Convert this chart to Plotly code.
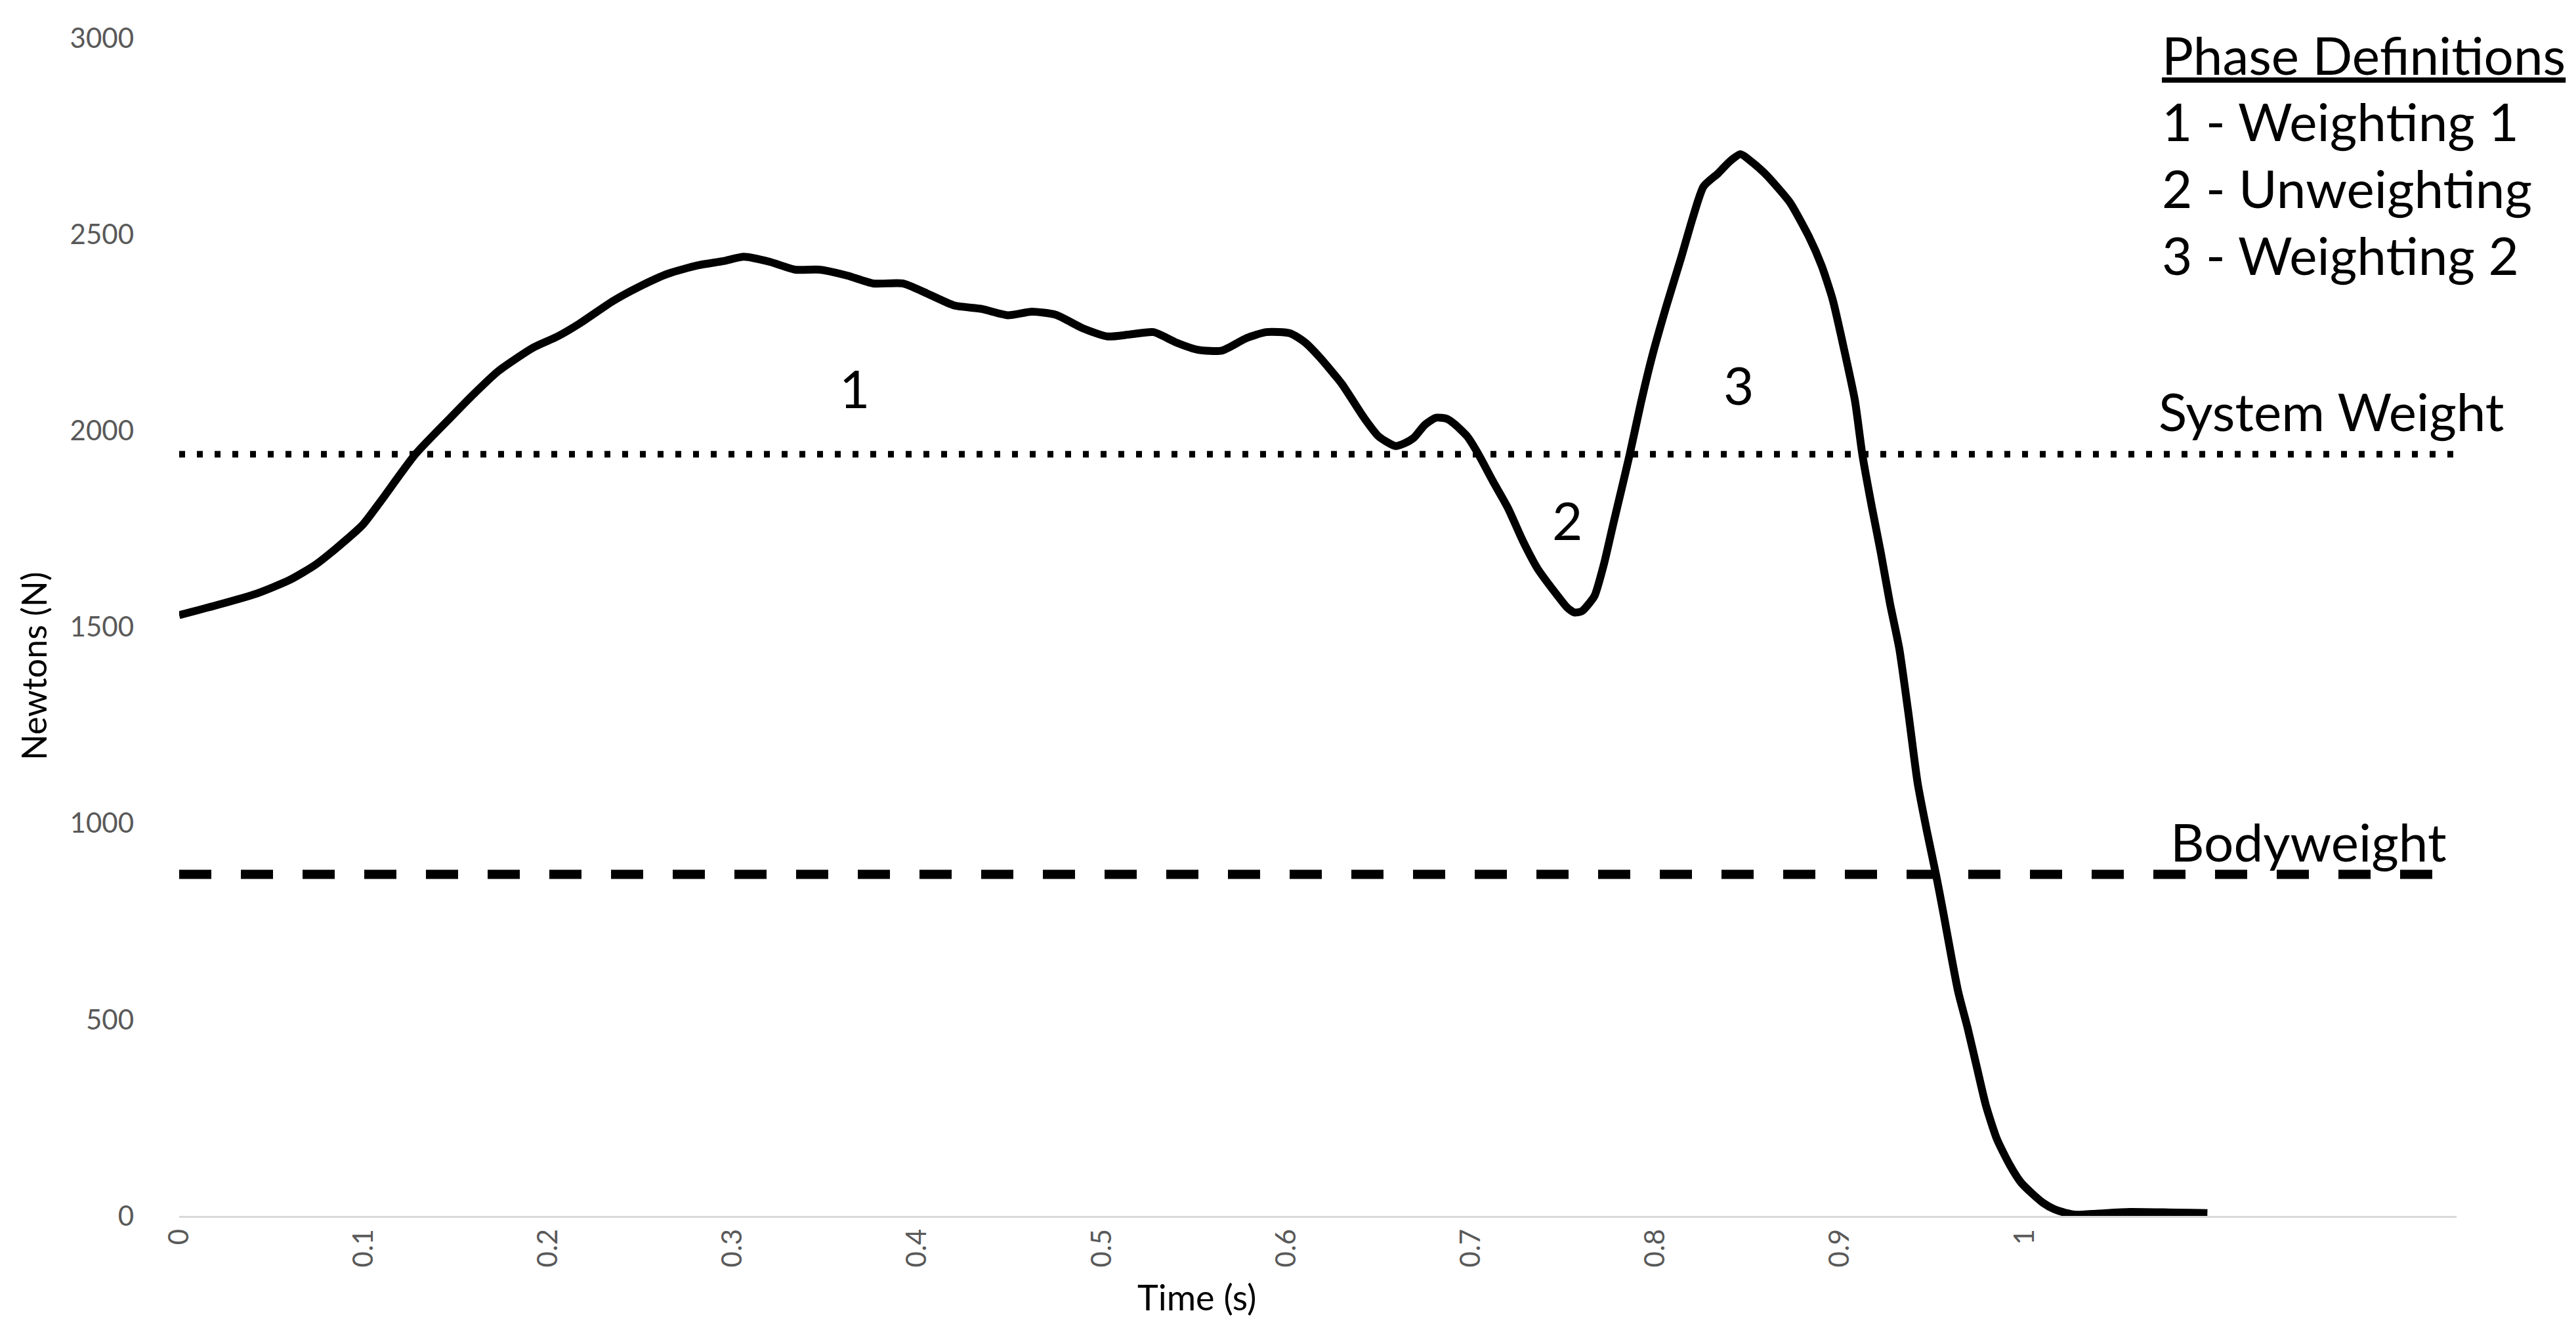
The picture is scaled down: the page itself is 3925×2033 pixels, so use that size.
import plotly.graph_objects as go

# ---- data ----
time_s = [0.000, 0.020, 0.042, 0.060, 0.074, 0.090, 0.0996, 0.109, 0.128, 0.147,
          0.160, 0.173, 0.192, 0.205, 0.217, 0.235, 0.249, 0.265, 0.281, 0.295,
          0.306, 0.320, 0.334, 0.347, 0.362, 0.376, 0.392, 0.405, 0.420, 0.435,
          0.449, 0.462, 0.475, 0.490, 0.503, 0.515, 0.528, 0.540, 0.552, 0.565,
          0.578, 0.589, 0.602, 0.610, 0.618, 0.630, 0.642, 0.650, 0.659, 0.664,
          0.669, 0.675, 0.681, 0.687, 0.691, 0.698, 0.704, 0.712, 0.720, 0.728,
          0.736, 0.746, 0.752, 0.756, 0.760, 0.764, 0.767, 0.772, 0.777, 0.782,
          0.786, 0.792, 0.798, 0.806, 0.814, 0.820, 0.826, 0.834, 0.840, 0.846,
          0.852, 0.859, 0.866, 0.873, 0.883, 0.890, 0.896, 0.902, 0.908, 0.912,
          0.917, 0.922, 0.927, 0.932, 0.937, 0.942, 0.947, 0.952, 0.956, 0.960,
          0.964, 0.969, 0.974, 0.979, 0.985, 0.992, 0.998, 1.004, 1.010, 1.016,
          1.022, 1.028, 1.040, 1.057, 1.075, 1.090, 1.099]
force_n = [1530, 1555, 1585, 1620, 1659, 1720, 1761, 1819, 1940, 2033,
           2095, 2152, 2212, 2240, 2273, 2330, 2366, 2400, 2421, 2432,
           2443, 2430, 2410, 2410, 2395, 2375, 2375, 2350, 2319, 2310,
           2294, 2303, 2295, 2260, 2240, 2245, 2251, 2225, 2206, 2204,
           2235, 2251, 2248, 2225, 2187, 2119, 2033, 1985, 1961, 1968,
           1982, 2015, 2033, 2030, 2017, 1985, 1940, 1870, 1803, 1720,
           1649, 1585, 1550, 1537, 1540, 1560, 1580, 1660, 1761, 1860,
           1940, 2070, 2187, 2320, 2443, 2540, 2622, 2656, 2685, 2704,
           2685, 2656, 2620, 2580, 2495, 2420, 2333, 2210, 2077, 1940,
           1810, 1690, 1560, 1446, 1280, 1102, 980, 868, 770, 667,
           570, 480, 380, 281, 195, 129, 85, 57, 33, 17,
           8, 3, 6, 10, 9, 8, 7]

ref_time = [0.0, 1.234]
system_weight = [1940, 1940]
bodyweight = [870, 870]

x_ticks = [0, 0.1, 0.2, 0.3, 0.4, 0.5, 0.6, 0.7, 0.8, 0.9, 1.0]
x_tick_labels = ["0", "0.1", "0.2", "0.3", "0.4", "0.5", "0.6", "0.7", "0.8", "0.9", "1"]
y_ticks = [0, 500, 1000, 1500, 2000, 2500, 3000]

phase_labels = ["1", "2", "3"]
phase_x = [0.366, 0.752, 0.845]
phase_y = [2110, 1774, 2117]

legend_lines = ["1 - Weighting 1", "2 - Unweighting", "3 - Weighting 2"]

FONT = "Lato"

fig = go.Figure()
fig.add_trace(go.Scatter(x=ref_time, y=system_weight, mode="lines",
                         line=dict(color="black", width=10, dash="9px,18px"),
                         hoverinfo="skip"))
fig.add_trace(go.Scatter(x=ref_time, y=bodyweight, mode="lines",
                         line=dict(color="black", width=14, dash="49px,45px"),
                         hoverinfo="skip"))
fig.add_trace(go.Scatter(x=time_s, y=force_n, mode="lines",
                         line=dict(color="black", width=12, shape="spline", smoothing=0.6)))

annotations = []
for lab, px, py in zip(phase_labels, phase_x, phase_y):
    annotations.append(dict(x=px, y=py, xref="x", yref="y", text=lab, showarrow=False,
                            xanchor="center", yanchor="middle",
                            font=dict(family=FONT, size=80, color="black")))

annotations.append(dict(x=0.870, y=0.986, xref="paper", yref="paper",
                        text="<u>Phase Definitions</u>", showarrow=False,
                        xanchor="left", yanchor="middle",
                        font=dict(family=FONT, size=80, color="black")))
for txt, py in zip(legend_lines, [0.930, 0.873, 0.816]):
    annotations.append(dict(x=0.870, y=py, xref="paper", yref="paper", text=txt,
                            showarrow=False, xanchor="left", yanchor="middle",
                            font=dict(family=FONT, size=80, color="black")))

annotations.append(dict(x=0.945, y=0.6836, xref="paper", yref="paper", text="System Weight",
                        showarrow=False, xanchor="center", yanchor="middle",
                        font=dict(family=FONT, size=80, color="black")))
annotations.append(dict(x=0.935, y=0.318, xref="paper", yref="paper", text="Bodyweight",
                        showarrow=False, xanchor="center", yanchor="middle",
                        font=dict(family=FONT, size=80, color="black")))

annotations.append(dict(x=-0.064, y=0.467, xref="paper", yref="paper", text="Newtons (N)",
                        textangle=-90, showarrow=False, xanchor="center", yanchor="middle",
                        font=dict(family=FONT, size=52, color="black")))
annotations.append(dict(x=0.4467, y=-0.069, xref="paper", yref="paper", text="Time (s)",
                        showarrow=False, xanchor="center", yanchor="middle",
                        font=dict(family=FONT, size=54, color="black")))

fig.update_layout(
    width=3925, height=2033,
    margin=dict(l=265, r=190, t=50, b=188),
    paper_bgcolor="white", plot_bgcolor="white",
    showlegend=False,
    annotations=annotations,
    xaxis=dict(range=[0, 1.234], tickvals=x_ticks, ticktext=x_tick_labels,
               tickangle=-90, showgrid=False, zeroline=False,
               showline=True, linecolor="#d9d9d9", linewidth=3,
               ticks="", tickfont=dict(family=FONT, size=42, color="#595959")),
    yaxis=dict(range=[0, 3000], tickvals=y_ticks, showgrid=False, zeroline=False,
               showline=False, ticks="", ticklabelstandoff=68,
               tickfont=dict(family=FONT, size=42, color="#595959")),
)

fig.write_html("out.html")
